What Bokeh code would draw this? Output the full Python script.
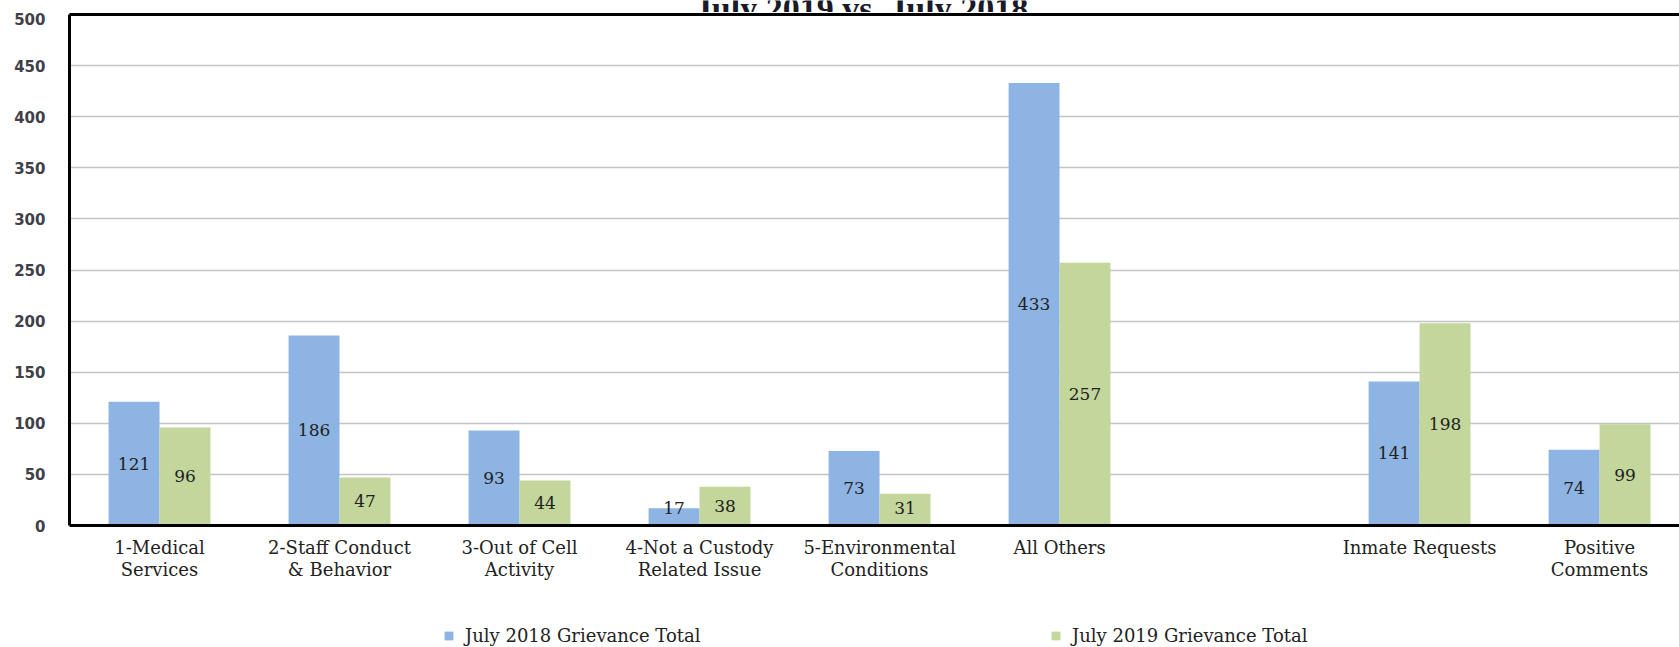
from bokeh.plotting import figure
from bokeh.layouts import column
from bokeh.models import (Range1d, LinearAxis, FixedTicker, SingleIntervalTicker,
                          Legend, LegendItem, Label, ColumnDataSource, Grid)
from bokeh.core.properties import value
from bokeh.embed import file_html
from bokeh.resources import INLINE

# ---- data ----
categories = ["1-Medical\nServices", "2-Staff Conduct\n& Behavior", "3-Out of Cell\nActivity",
              "4-Not a Custody\nRelated Issue", "5-Environmental\nConditions", "All Others",
              "", "Inmate Requests", "Positive\nComments"]
july_2018 = [121, 186, 93, 17, 73, 433, 141, 74]
july_2019 = [96, 47, 44, 38, 31, 257, 198, 99]
series_names = ["July 2018 Grievance Total", "July 2019 Grievance Total"]
title_text = "July 2019 vs. July 2018"
y_ticks_interval = 50

positions = [i for i, c in enumerate(categories) if c]

BLUE = "#8EB4E3"
GREEN = "#C3D69B"
bar_w = 0.283
serif = "DejaVu Serif"
X_RANGE = (-0.5, 8.444)

# ---- title strip (title is cut off at the top, as in the reference) ----
t_fig = figure(width=1679, height=12, output_backend="svg", toolbar_location=None,
               x_range=Range1d(*X_RANGE), y_range=Range1d(0, 1),
               min_border_left=69, min_border_right=0, min_border_top=0, min_border_bottom=0,
               x_axis_type=None, y_axis_type=None)
t_fig.outline_line_color = None
t_fig.add_layout(Label(x=792, y=4, x_units="screen", y_units="screen", text=title_text,
                       text_align="center", text_baseline="alphabetic",
                       text_font="Liberation Serif", text_font_style="bold",
                       text_font_size="34px", text_color="#1a1a28"))

# ---- main chart ----
p = figure(width=1679, height=588, output_backend="svg", toolbar_location=None,
           x_range=Range1d(*X_RANGE), y_range=Range1d(0, 500),
           min_border_left=69, min_border_right=0, min_border_top=2, min_border_bottom=75,
           x_axis_type=None, y_axis_type=None)
p.outline_line_color = None
p.background_fill_color = "white"
p.border_fill_color = "white"

yaxis = LinearAxis(ticker=SingleIntervalTicker(interval=y_ticks_interval))
yaxis.axis_line_width = 3
yaxis.axis_line_color = "black"
yaxis.major_tick_line_color = None
yaxis.minor_tick_line_color = None
yaxis.major_tick_out = 0
yaxis.major_label_standoff = 20
yaxis.major_label_text_font = "DejaVu Sans"
yaxis.major_label_text_font_style = "bold"
yaxis.major_label_text_font_size = "15px"
yaxis.major_label_text_color = "#404048"
p.add_layout(yaxis, "left")

p.add_layout(Grid(dimension=1, ticker=yaxis.ticker, grid_line_color="#c4c4c4",
                  grid_line_width=1.5))

xaxis = LinearAxis(ticker=FixedTicker(ticks=positions))
xaxis.major_label_overrides = {i: categories[i] for i in positions}
xaxis.axis_line_width = 3
xaxis.axis_line_color = "black"
xaxis.major_tick_line_color = None
xaxis.minor_tick_line_color = None
xaxis.major_tick_out = 0
xaxis.major_label_standoff = 11
xaxis.major_label_text_font = serif
xaxis.major_label_text_font_size = "18px"
xaxis.major_label_text_color = "#222222"
xaxis.major_label_text_line_height = 1.08
p.add_layout(xaxis, "below")

# top frame line
top = LinearAxis(ticker=FixedTicker(ticks=[]))
top.axis_line_width = 3
top.axis_line_color = "black"
top.major_tick_line_color = None
top.minor_tick_line_color = None
top.major_tick_out = 0
top.minor_tick_out = 0
top.major_label_standoff = 0
top.major_label_text_font_size = "0px"
p.add_layout(top, "above")

src18 = ColumnDataSource(dict(x=[x - bar_w / 2 for x in positions], top=july_2018,
                              ly=[max(v / 2, 17.5) for v in july_2018],
                              t=[str(v) for v in july_2018]))
src19 = ColumnDataSource(dict(x=[x + bar_w / 2 for x in positions], top=july_2019,
                              ly=[max(v / 2, 17.5) for v in july_2019],
                              t=[str(v) for v in july_2019]))
p.vbar(x="x", top="top", bottom=0, width=bar_w, source=src18, fill_color=BLUE, line_color=None)
p.vbar(x="x", top="top", bottom=0, width=bar_w, source=src19, fill_color=GREEN, line_color=None)

for s in (src18, src19):
    p.text(x="x", y="ly", text="t", source=s, text_align="center", text_baseline="middle",
           text_font=value(serif), text_font_size="17px", text_color="#222222")

# ---- legend strip below the chart (key renderers lie outside its range) ----
lg_fig = figure(width=1679, height=47, output_backend="svg", toolbar_location=None,
                x_range=Range1d(*X_RANGE), y_range=Range1d(-2, -1),
                min_border_left=69, min_border_right=0, min_border_top=0, min_border_bottom=0,
                x_axis_type=None, y_axis_type=None)
lg_fig.outline_line_color = None
k18 = lg_fig.vbar(x="x", top="top", bottom=0, width=1e-6, source=src18,
                  fill_color=BLUE, line_color=None)
k19 = lg_fig.vbar(x="x", top="top", bottom=0, width=1e-6, source=src19,
                  fill_color=GREEN, line_color=None)

for r, name, loc in ((k18, series_names[0], (374, 1)), (k19, series_names[1], (981, 1))):
    lg = Legend(items=[LegendItem(label=name, renderers=[r])], location=loc,
                orientation="horizontal", glyph_width=11, glyph_height=11,
                label_standoff=11, label_height=18, padding=0, margin=0,
                border_line_color=None, background_fill_alpha=0,
                label_text_font=serif, label_text_font_size="18px",
                label_text_color="#222222")
    lg_fig.add_layout(lg, "center")

layout = column(t_fig, p, lg_fig, spacing=0)
open("out.html", "w").write(file_html(layout, INLINE))
